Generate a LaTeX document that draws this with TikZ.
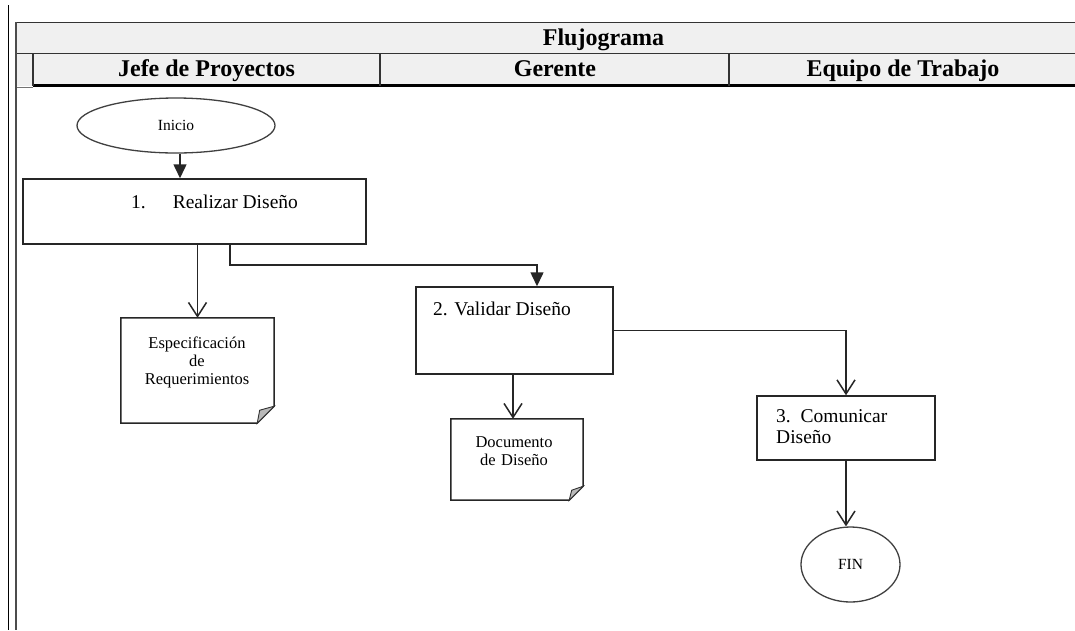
\documentclass[tikz,border=0pt]{standalone}
\usepackage{fontspec}
\setmainfont{Liberation Serif}
\usetikzlibrary{arrows.meta,shapes.geometric}

% outline of a document symbol with a folded bottom-right corner
\newcommand\docoutline[2]{%
  \draw[stepbox] (#1.north west) -- (#1.north east) -- ([yshift=#2]#1.south east)
    -- ([xshift=-#2]#1.south east) -- (#1.south west) -- cycle;
  \filldraw[fill=gray!55,draw=black!80,line width=0.9pt]
    ([xshift=-#2]#1.south east) -- ([xshift=-#2+2.5pt,yshift=#2-4pt]#1.south east)
    -- ([yshift=#2]#1.south east) -- cycle;
}

\begin{document}
\begin{tikzpicture}[x=1pt,y=-1pt,
  rule/.style={draw=black!80,line width=1.6pt},
  headtext/.style={font=\fontsize{24}{28}\selectfont\bfseries,inner sep=0pt,anchor=base},
  stepbox/.style={draw=black!85,line width=1.5pt},
  boxnode/.style={inner sep=0pt},
  steptext/.style={font=\fontsize{19.5}{21.5}\selectfont,inner sep=0pt,anchor=base west,align=left},
  terminal/.style={ellipse,draw=black!75,line width=1.3pt,inner sep=0pt,font=\fontsize{15.5}{18}\selectfont},
  doctext/.style={font=\fontsize{16.5}{18}\selectfont,inner sep=0pt,align=center,anchor=base},
  flow/.style={draw=black!85,line width=1.5pt},
  solidtip/.style={flow,-{Triangle[length=14pt,width=13pt]}},
  opentip/.style={flow,-{Straight Barb[length=14pt,width=18pt]}},
]
\useasboundingbox (0,0) rectangle (1075,630);
\fill[white] (0,0) rectangle (1075,630);

% header table
\fill[black!6] (16,22.5) rectangle (1075,86);
\draw[rule] (16,22.5) -- (1075,22.5);
\draw[rule] (16,53.5) -- (1075,53.5);
\draw[black,line width=2.6pt] (33,85.5) -- (1075,85.5);
\draw[black!55,line width=1pt] (16,87) -- (33,87);
\draw[rule] (33,53.5) -- (33,85.5);
\draw[rule] (380,53.5) -- (380,85.5);
\draw[rule] (729,53.5) -- (729,85.5);
\draw[black!70,line width=1.8pt] (16,22) -- (16,630);
\draw[black,line width=1.2pt] (8.5,5) -- (8.5,630);

\node[headtext] (title) at (603.5,45) {Flujograma};
\node[headtext] (lane1) at (206.5,76) {Jefe de Proyectos};
\node[headtext] (lane2) at (555,76) {Gerente};
\node[headtext] (lane3) at (903,76) {Equipo de Trabajo};

% flow elements
\node[terminal,minimum width=198pt,minimum height=55pt] (ini) at (176,125.5) {Inicio};

\node[boxnode,stepbox,minimum width=343pt,minimum height=65pt] (r1) at (194.5,211.5) {};
\node[steptext] (r1t) at (131,208) {1.\hspace{27pt}Realizar Diseño};

\node[boxnode,minimum width=153pt,minimum height=105pt] (d1) at (197.5,370.5) {};
\docoutline{d1}{17pt}
\node[doctext,text width=150pt] (d1t) at (197,348) {Especificación\\de\\Requerimientos};

\node[boxnode,stepbox,minimum width=197pt,minimum height=87pt] (r2) at (514.5,330.5) {};
\node[steptext] (r2t) at (433,315) {2. Validar Diseño};

\node[boxnode,minimum width=132pt,minimum height=81pt] (d2) at (517,459.5) {};
\docoutline{d2}{14pt}
\node[doctext,text width=120pt] (d2t) at (514,447) {Documento\\de Diseño};

\node[boxnode,stepbox,minimum width=178pt,minimum height=64pt] (r3) at (846,428) {};
\node[steptext,text width=150pt] (r3t) at (776,422) {3. Comunicar\\Diseño};

\node[terminal,minimum width=99pt,minimum height=75pt] (fin) at (850.5,564.5) {FIN};

% connectors
\coordinate (c1) at (180,0);
\coordinate (c2) at (230,265);
\coordinate (c3) at (537,0);
\coordinate (c4) at (513,0);
\draw[solidtip] (ini.south -| c1) -- (r1.north -| c1);
\draw[opentip] (r1.south -| d1.north) -- (d1.north);
\draw[solidtip] (r1.south -| c2) -- (c2) -| (r2.north -| c3);
\draw[opentip] (r2.south -| c4) -- (d2.north -| c4);
\draw[opentip] (r2.east) -| (r3.north);
\draw[opentip] (r3.south) -- (r3.south |- fin.north);
\end{tikzpicture}
\end{document}
